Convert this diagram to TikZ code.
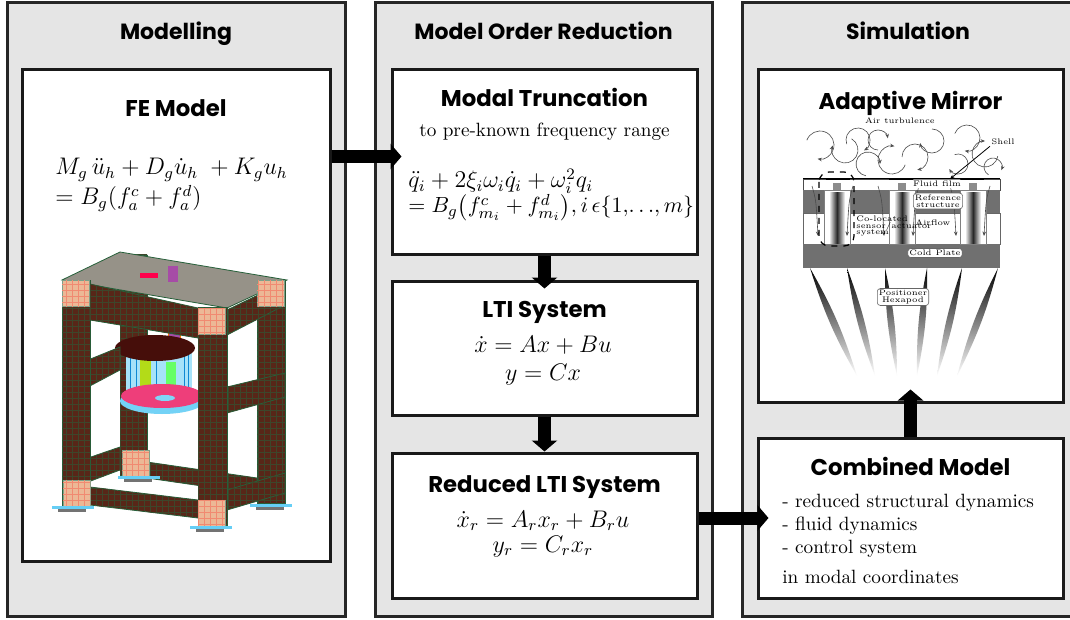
\documentclass[tikz,border=0pt]{standalone}
\usepackage{amsmath,amssymb}
\usepackage{fontspec}
\newfontfamily\headfont{Poppins}
\usetikzlibrary{calc,arrows.meta,positioning,patterns}
\definecolor{panelgray}{RGB}{229,229,229}
\definecolor{febrown}{RGB}{88,38,24}
\definecolor{fegreen}{RGB}{38,96,58}
\definecolor{fepeach}{RGB}{236,184,150}
\definecolor{feplate}{RGB}{150,146,136}
\definecolor{fedisk}{RGB}{70,14,10}
\definecolor{fepink}{RGB}{238,62,122}
\definecolor{refgray}{RGB}{112,112,112}

\begin{document}
\begin{tikzpicture}[x=0.5pt,y=-0.5pt,
		panel/.style={draw=black!85,line width=1.5pt,fill=panelgray},
		box/.style={draw=black!90,line width=1.5pt,fill=white},
		head/.style={font=\headfont\bfseries\fontsize{11}{13}\selectfont,anchor=base,inner sep=0pt},
		title/.style={font=\headfont\bfseries\fontsize{11.4}{14}\selectfont,anchor=base,inner sep=0pt},
		body/.style={font=\fontsize{9.6}{12}\selectfont,anchor=base,inner sep=0pt},
		formula/.style={anchor=base,inner sep=0pt},
		bigarrow/.style={line width=6.5pt,-{Triangle[length=5.5pt,width=12.5pt]}},
		fepart/.style={fill=febrown,draw=fegreen,line width=0.4pt,postaction={pattern=grid,pattern color=fegreen!55!febrown}},
		fejoint/.style={fill=fepeach,draw=fegreen!60,line width=0.3pt,postaction={pattern=grid,pattern color=fepeach!75!red}},
		swirl/.style={draw=black!70,line width=0.3pt,-{Stealth[length=2.2pt,width=1.8pt]}},
		tag/.style={font=\fontsize{4}{4.4}\selectfont,fill=white,draw=black!60,rounded corners=1.5pt,inner sep=0.8pt,line width=0.3pt,align=center},
		note/.style={font=\fontsize{4}{4.4}\selectfont,inner sep=0.5pt,align=left}]
	\useasboundingbox (0,0) rectangle (1070,620);
	\clip (0,0) rectangle (1070,620);

	% three columns
	\node[panel,minimum width=169pt,minimum height=306.5pt] (modelling) at (176,309.5) {};
	\node[panel,minimum width=168.5pt,minimum height=306.5pt] (reduction) at (543.5,309.5) {};
	\node[panel,minimum width=169pt,minimum height=306.5pt] (simulation) at (911,309.5) {};

	\node[box,minimum width=154pt,minimum height=245.5pt] (fe) at (176,315.5) {};
	\node[box,minimum width=152.5pt,minimum height=92.5pt] (mt) at (544.5,162.5) {};
	\node[box,minimum width=152.5pt,minimum height=67pt] (lti) at (544.5,348) {};
	\node[box,minimum width=152.5pt,minimum height=72.5pt] (red) at (544.5,525.5) {};
	\node[box,minimum width=152.5pt,minimum height=166pt] (mir) at (910.5,236) {};
	\node[box,minimum width=152.5pt,minimum height=80pt] (comb) at (910.5,518) {};

	% FE frame
	\filldraw[fepart] (120,255) rectangle (147,475);
	\filldraw[fepart] (257,280) rectangle (285,503);
	\filldraw[fepart] (147,462) -- (257,478) -- (257,494) -- (147,478) -- cycle;
	\filldraw[fill=feplate,draw=fegreen] (62,280) -- (120,252) -- (287,280) -- (227,308) -- cycle;
	\fill[violet!70] (168,266) rectangle (178,282);
	\fill[red!70!magenta] (140,273) rectangle (158,278);
	\filldraw[fill=violet!70,draw=orange] (168,316) rectangle (180,350);
	\fill[cyan!35] (126,350) rectangle (192,392);
	\fill[yellow!70!green] (140,360) rectangle (151,386);
	\fill[green!60] (166,362) rectangle (176,386);
	\foreach \x in {130,136,156,184,188}
		\draw[cyan!70!blue,line width=0.4pt] (\x,352) -- (\x,392);
	\fill[fedisk] (155,348) ellipse [x radius=40,y radius=13];
	\fill[cyan!55] (162,401) ellipse [x radius=42,y radius=13];
	\fill[fepink] (162,396) ellipse [x radius=41,y radius=12];
	\fill[cyan!50] (165,398) ellipse [x radius=10,y radius=3];
	\filldraw[fepart] (227,310) -- (285,282) -- (285,305) -- (227,335) -- cycle;
	\filldraw[fepart] (227,387) -- (285,373) -- (285,397) -- (227,413) -- cycle;
	\filldraw[fepart] (227,490) -- (285,473) -- (285,493) -- (227,510) -- cycle;
	\filldraw[fepart] (88,360) -- (120,347) -- (120,370) -- (88,387) -- cycle;
	\filldraw[fepart] (88,458) -- (120,447) -- (120,470) -- (88,482) -- cycle;
	\filldraw[fepart] (62,280) rectangle (90,505);
	\filldraw[fepart] (198,307) rectangle (227,525);
	\filldraw[fepart] (90,284) -- (198,308) -- (198,338) -- (90,320) -- cycle;
	\filldraw[fepart] (90,487) -- (198,500) -- (198,518) -- (90,505) -- cycle;
	\foreach \x/\y in {62/280,198/308,63/480,198/500,257/280,122/450}
		\filldraw[fejoint] (\x,\y) rectangle ++(27,26);
	\foreach \x/\y in {52/506,190/526,118/476,250/504}{
		\fill[cyan!60] (\x,\y) rectangle ++(42,2.5);
		\fill[black!55] (\x+6,\y+3) rectangle ++(28,3);
	}

	% adaptive mirror sketch
	\foreach \cx/\cy/\r/\a in {820/145/14/200,845/150/13/300,858/140/12/160,878/140/10/90,868/164/12/100,892/160/14/20,915/157/13/180,932/141/12/270,967/138/13/200,985/154/13/10,958/164/10/250,993/167/9/120}
		\draw[swirl] ([shift={(\a:\r)}]\cx,\cy) arc[start angle=\a,end angle=\a+260,radius=\r];
	\draw[black!70,line width=0.3pt] (803,179) rectangle (1000,190);
	\fill[refgray] (803,190) rectangle (1000,213);
	\draw[black!60,line width=0.3pt] (803,213) rectangle (1000,244);
	\fill[refgray] (803,244) rectangle (1000,268);
	\foreach \x in {824,889,960}{
		\filldraw[fill=white,draw=black!50,line width=0.3pt] (\x,190) rectangle ++(26,54);
		\shade[left color=white,right color=white,middle color=black!85] (\x+5,193) rectangle ++(16,51);
		\fill[black!45] (\x+9,183) rectangle ++(8,7);
	}
	\draw[line width=0.5pt] (803,179) -- (1000,179);
	\foreach \x in {826,889,960}
		\draw[line width=1.4pt] (\x,179) -- ++(24,0);
	\foreach \x/\d in {812/1,853/-1,878/1,919/-1,950/1,990/-1}
		\draw[swirl] (\x,186) .. controls (\x+\d*4,200) .. (\x+\d*6,236);
	\draw[dashed,line width=0.6pt,rounded corners=5pt] (819,172) rectangle (854,246);
	\foreach \tx/\bx in {810/857,847/875,885/897,927/917,962/937,998/957}
		\shade[top color=black,bottom color=white] (\tx,268) to[bend left=6] (\bx,376) to[bend left=6] (\tx,268);
	\node[note] (turb) at (900,121) {Air turbulence};
	\node[note] (shell) at (1003,142) {Shell};
	\coordinate (shellpt) at (950,179);
	\draw[line width=0.4pt,-{Stealth[length=2.2pt,width=1.8pt]}] (shell.south west) -- (shellpt);
	\node[tag,draw=none] (film) at (937,184) {Fluid film};
	\node[tag] (refstr) at (938,201) {Reference\\[-1pt]structure};
	\node[note,anchor=west] (coloc) at (855,226) {Co-located\\[-1pt]sensor/actuator\\[-1pt]system};
	\node[note,anchor=west] (airflow) at (914,223) {Airflow};
	\node[tag] (cold) at (935,253) {Cold Plate};
	\node[tag] (hexa) at (903,297) {Positioner\\[-1pt]Hexapod};

	% arrows
	\draw[bigarrow] ($(fe.east |- mt.west)+(0,-6)$) -- ($(mt.west)+(11,-6)$);
	\draw[bigarrow] (mt.south) -- ($(lti.north)+(0,9)$);
	\draw[bigarrow] (lti.south) -- (red.north);
	\draw[bigarrow] (red.east |- comb.west) -- ($(comb.west)+(12,0)$);
	\draw[bigarrow] (comb.north) -- ($(mir.south)+(0,-14)$);

	% texts
	\node[head] (modhead) at (176,40) {Modelling};
	\node[head] (morhead) at (543.5,40) {Model Order Reduction};
	\node[head] (simhead) at (908,40) {Simulation};

	\node[title] (fetitle) at (176,117) {FE Model};
	\node[formula,anchor=base west,align=left,font=\fontsize{12}{15}\selectfont] (feeq) at (55,205)
		{$M_g\,\ddot{u}_h + D_g\dot{u}_h\; + K_g u_h$\\ $= B_g(f_a^c + f_a^d)$};

	\node[title] (mttitle) at (544.5,107) {Modal Truncation};
	\node[body] (mtsub) at (544.5,137) {to pre-known frequency range};
	\node[formula,anchor=base west,align=left,font=\fontsize{12}{12.5}\selectfont] (mteq) at (408,213)
		{$\ddot{q}_i + 2\xi_i\omega_i\dot{q}_i + \omega_i^2 q_i$\\
		\fontsize{10.95}{12.5}\selectfont$= B_g\bigl(f^c_{m_i} + f^d_{m_i}\bigr), i\,\epsilon\{1,\!\ldots\!,m\}$};

	\node[title] (ltititle) at (544.5,317) {LTI System};
	\node[formula,align=center,font=\fontsize{12}{14}\selectfont] (ltieq) at (543,380) {$\dot{x} = Ax + Bu$\\ $y = Cx$};

	\node[title] (redtitle) at (544.5,492) {Reduced LTI System};
	\node[formula,align=center,font=\fontsize{12}{12.5}\selectfont] (redeq) at (543,552) {$\dot{x}_r = A_r x_r + B_r u$\\ $y_r = C_r x_r$};

	\node[title] (mirtitle) at (910.5,110) {Adaptive Mirror};
	\node[title] (combtitle) at (910.5,475) {Combined Model};
	\foreach \t/\yy [count=\k] in {- reduced structural dynamics/507,- fluid dynamics/530,- control system/553,in modal coordinates/583}
		\node[body,anchor=base west] (combline\k) at (782,\yy) {\t};
\end{tikzpicture}
\end{document}
